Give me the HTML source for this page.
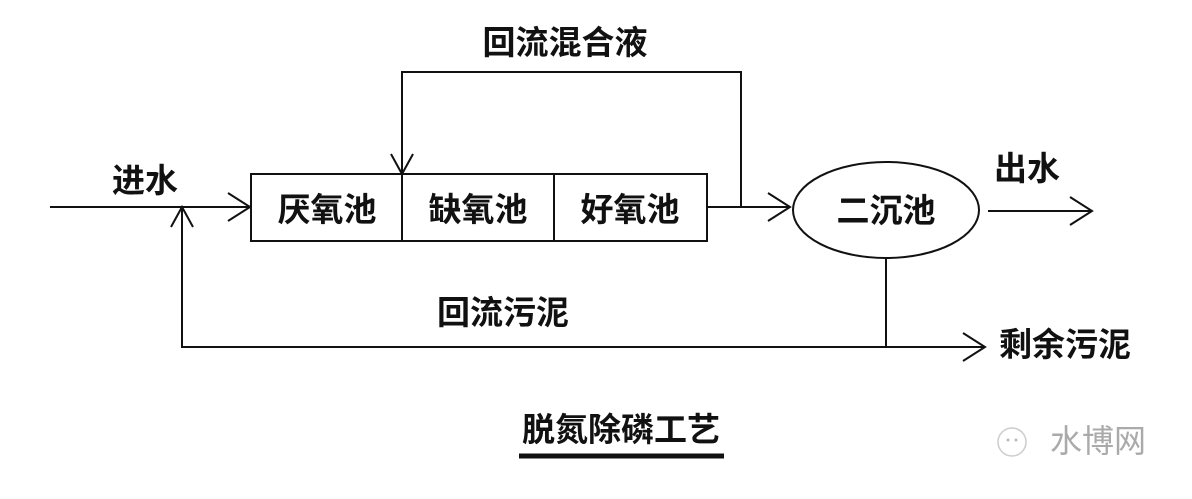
<!DOCTYPE html>
<html><head><meta charset="utf-8"><style>
html,body{margin:0;padding:0;background:#fff;}
svg text{font-family:"Liberation Sans","Noto Sans CJK SC",sans-serif;font-weight:bold;fill:#111;}
</style></head><body>
<svg width="1192" height="494" viewBox="0 0 1192 494" xmlns="http://www.w3.org/2000/svg">
<rect width="1192" height="494" fill="#fff"/>
<g stroke="#111" stroke-width="2" fill="none">
<rect x="251" y="174" width="456" height="67"/>
<line x1="402" y1="174" x2="402" y2="241"/>
<line x1="554" y1="174" x2="554" y2="241"/>
<line x1="50" y1="207" x2="250" y2="207"/>
<polyline points="228,193 250,207 228,221"/>
<polyline points="707,207 790,207"/>
<polyline points="768,193 790,207 768,221"/>
<polyline points="741,207 741,72 402,72 402,174"/>
<polyline points="391,154 402,174 413,154"/>
<ellipse cx="886" cy="210" rx="93" ry="48"/>
<line x1="988" y1="211" x2="1092" y2="211"/>
<polyline points="1070,197 1092,211 1070,225"/>
<line x1="886" y1="258" x2="886" y2="347"/>
<polyline points="182,207 182,347 985,347"/>
<polyline points="963,333 985,347 963,361"/>
<polyline points="171,227 182,207 193,227"/>
</g>
<line x1="519" y1="456" x2="724" y2="456" stroke="#111" stroke-width="5"/>
<g font-size="33" text-anchor="middle">
<text x="565" y="54">回流混合液</text>
<text x="145" y="192">进水</text>
<text x="327" y="221">厌氧池</text>
<text x="478" y="221">缺氧池</text>
<text x="630" y="221">好氧池</text>
<text x="886" y="222">二沉池</text>
<text x="1027" y="180">出水</text>
<text x="503" y="324">回流污泥</text>
<text x="1065" y="356">剩余污泥</text>
<text x="621" y="441">脱氮除磷工艺</text>
</g>
<text x="1050" y="452" font-size="32" style="font-weight:normal;fill:#aaa">水博网</text>
<circle cx="1012" cy="442" r="14" fill="none" stroke="#ccc" stroke-width="1.5"/>
<circle cx="1008" cy="440" r="1.5" fill="#bbb"/><circle cx="1016" cy="440" r="1.5" fill="#bbb"/>
</svg>
</body></html>
